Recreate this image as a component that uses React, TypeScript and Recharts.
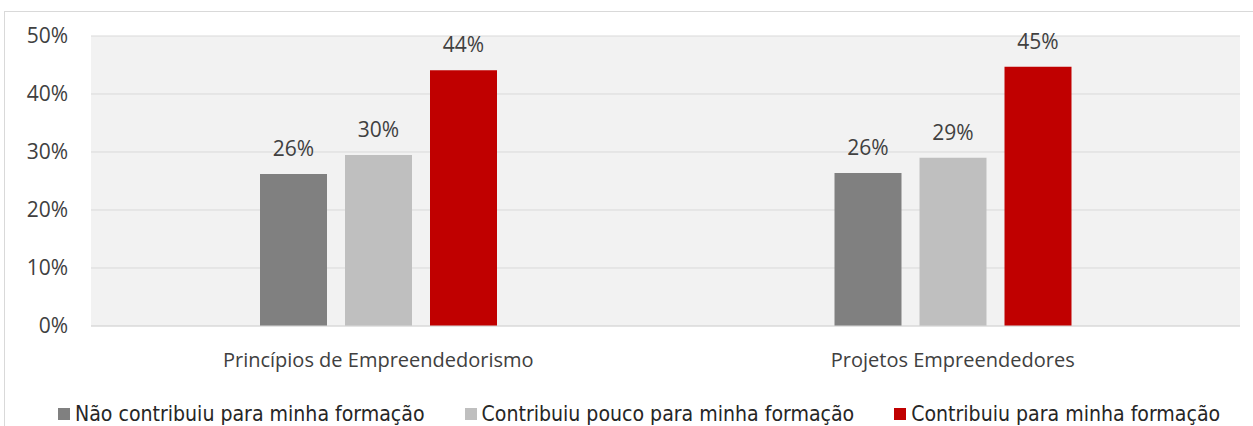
import { Bar, BarChart, CartesianGrid, LabelList, XAxis, YAxis } from 'recharts';

const categories = ['Princípios de Empreendedorismo', 'Projetos Empreendedores'];
const naoContribuiu = [26.2, 26.4];
const contribuiuPouco = [29.5, 29.0];
const contribuiu = [44.1, 44.7];
const yTicks = [0, 10, 20, 30, 40, 50];

const seriesNames = [
  'Não contribuiu para minha formação',
  'Contribuiu pouco para minha formação',
  'Contribuiu para minha formação',
];
const seriesColors = ['#808080', '#bfbfbf', '#c00000'];

const chartData = categories.map((name, i) => ({
  name,
  nao: naoContribuiu[i],
  pouco: contribuiuPouco[i],
  sim: contribuiu[i],
}));

const tickFont = { fill: '#404040', fontSize: 21, fontFamily: 'Open Sans' };
const pct = (v: any) => `${Math.round(Number(v))}%`;

export default function App() {
  return (
    <div
      style={{
        position: 'absolute',
        left: 0,
        top: 0,
        width: 1253,
        height: 426,
        background: '#fff',
        overflow: 'hidden',
      }}
    >
      {/* moldura do gráfico */}
      <div
        style={{
          position: 'absolute',
          left: 4,
          top: 11,
          width: 1260,
          height: 430,
          border: '1px solid #d9d9d9',
        }}
      />
      <div style={{ position: 'absolute', left: 0, top: 0 }}>
        <BarChart
          width={1253}
          height={380}
          data={chartData}
          margin={{ top: 36, right: 13, bottom: 0, left: 0 }}
          barCategoryGap={169}
          barGap={18}
        >
          <CartesianGrid vertical={false} stroke='#d9d9d9' fill='#f2f2f2' />
          <XAxis
            dataKey='name'
            height={54}
            tickLine={false}
            axisLine={{ stroke: '#d9d9d9' }}
            tickSize={0}
            tickMargin={27}
            tick={{ ...tickFont, fontSize: 20 }}
          />
          <YAxis
            width={91}
            domain={[0, 50]}
            ticks={yTicks}
            tickFormatter={pct}
            axisLine={false}
            tickLine={false}
            tickSize={0}
            tickMargin={23}
            tick={tickFont}
          />
          <Bar dataKey='nao' fill={seriesColors[0]} isAnimationActive={false}>
            <LabelList dataKey='nao' position='top' offset={18} formatter={pct} style={tickFont} />
          </Bar>
          <Bar dataKey='pouco' fill={seriesColors[1]} isAnimationActive={false}>
            <LabelList dataKey='pouco' position='top' offset={18} formatter={pct} style={tickFont} />
          </Bar>
          <Bar dataKey='sim' fill={seriesColors[2]} isAnimationActive={false}>
            <LabelList dataKey='sim' position='top' offset={18} formatter={pct} style={tickFont} />
          </Bar>
        </BarChart>
      </div>
      {/* legenda */}
      <div
        style={{
          position: 'absolute',
          left: 58,
          top: 401,
          display: 'flex',
          gap: 40,
          fontFamily: "'Liberation Sans Narrow', 'DejaVu Sans Condensed', sans-serif",
          fontSize: 21.1,
          color: '#262626',
        }}
      >
        {seriesNames.map((n, i) => (
          <div key={n} style={{ display: 'flex', alignItems: 'center' }}>
            <span
              style={{
                width: 12,
                height: 12,
                background: seriesColors[i],
                marginRight: 5,
                display: 'inline-block',
              }}
            />
            <span>{n}</span>
          </div>
        ))}
      </div>
    </div>
  );
}
